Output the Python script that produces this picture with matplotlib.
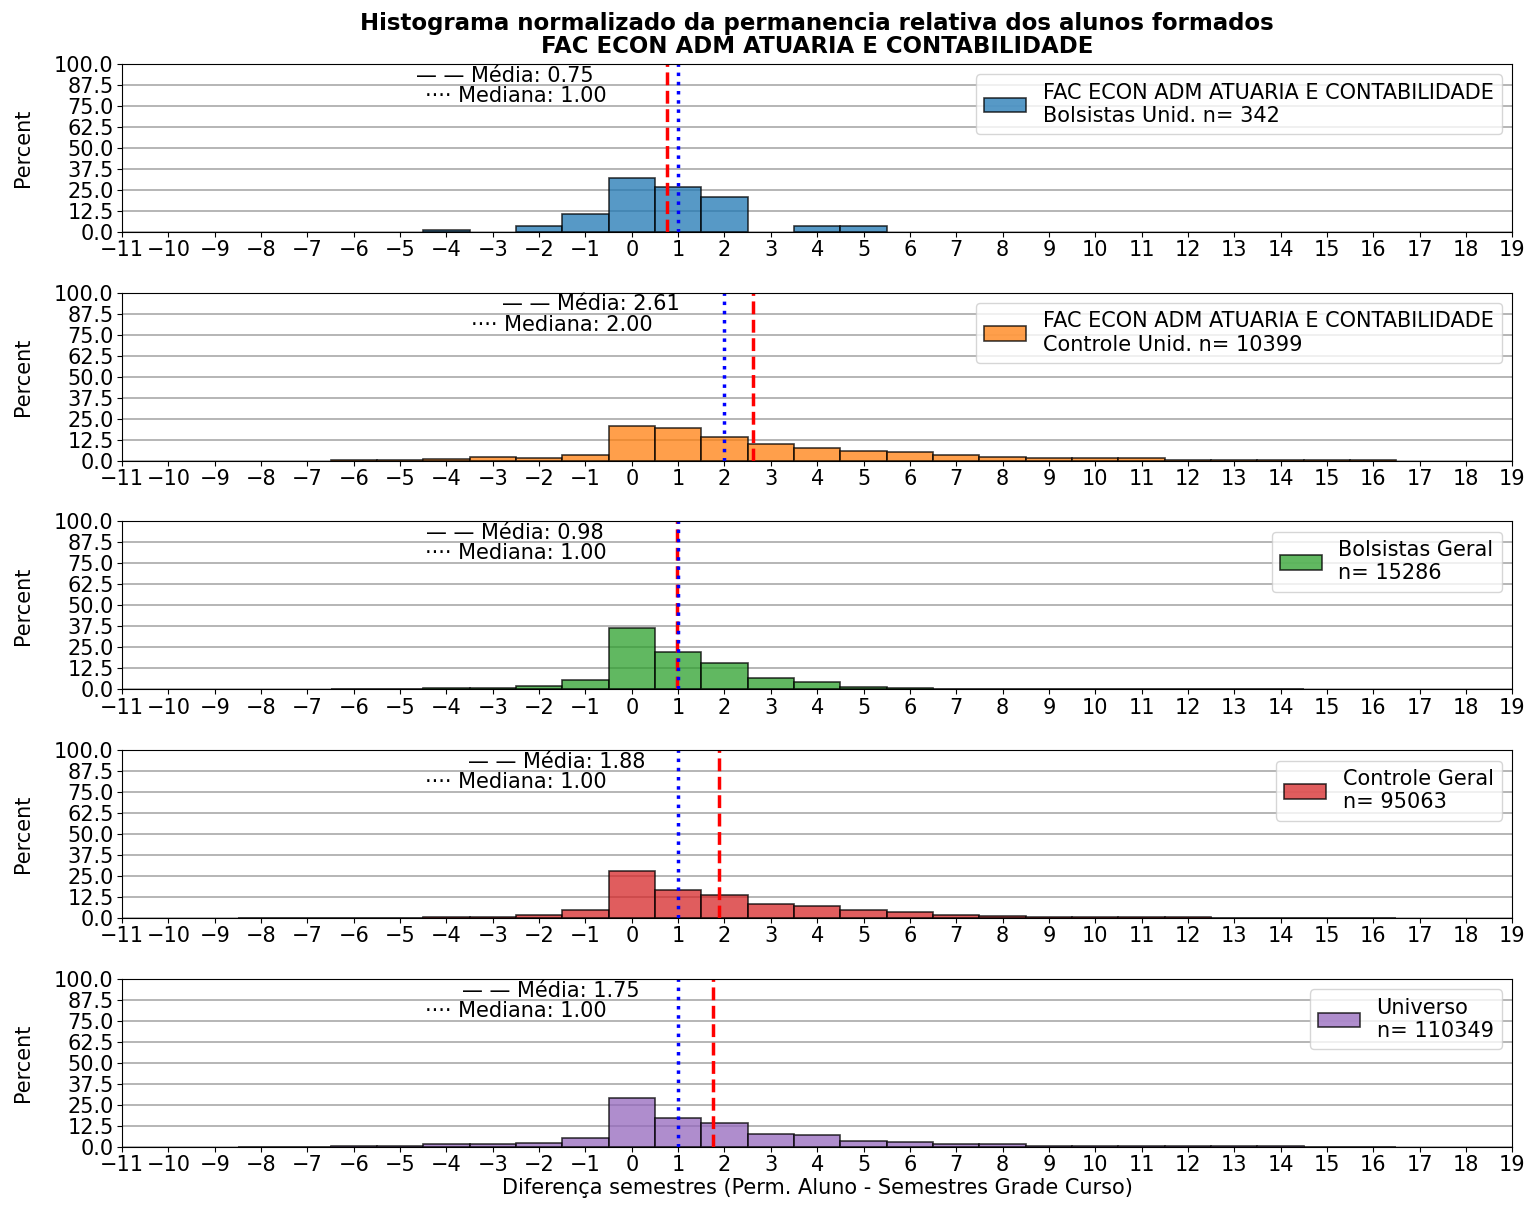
import matplotlib
matplotlib.use('Agg')
import matplotlib.pyplot as plt
import numpy as np

# bins (semesters difference) and percent per bin for each group
x_bols_unid = [-4, -2, -1, 0, 1, 2, 4, 5]
p_bols_unid = [0.9, 3.4, 10.7, 31.8, 26.4, 20.7, 3.2, 3.2]

x_ctrl_unid = [-6, -5, -4, -3, -2, -1, 0, 1, 2, 3, 4, 5, 6, 7, 8, 9, 10, 11, 12, 13, 14, 15, 16]
p_ctrl_unid = [0.1, 0.1, 0.8, 2.4, 1.6, 3.2, 20.6, 19.2, 13.8, 9.6, 7.2, 5.6, 4.9, 3.2, 2.2,
               1.4, 1.4, 1.4, 0.6, 0.6, 0.6, 0.6, 0.5]

x_bols_geral = [-6, -5, -4, -3, -2, -1, 0, 1, 2, 3, 4, 5, 6, 7, 8, 9, 10, 11, 12, 13, 14]
p_bols_geral = [0.2, 0.2, 0.8, 0.8, 2.2, 5.6, 36.3, 22.3, 15.8, 6.5, 4.2, 1.6, 0.8,
                0.1, 0.1, 0.1, 0.1, 0.1, 0.1, 0.1, 0.1]

x_ctrl_geral = [-8, -7, -6, -5, -4, -3, -2, -1, 0, 1, 2, 3, 4, 5, 6, 7, 8, 9, 10, 11, 12, 13, 14, 15, 16]
p_ctrl_geral = [0.1, 0.1, 0.15, 0.15, 0.6, 0.6, 1.6, 5.0, 27.9, 16.5, 13.9, 8.2, 7.4, 5.0, 3.4,
                1.6, 1.4, 0.6, 0.6, 0.6, 0.6, 0.1, 0.1, 0.1, 0.1]

x_universo = [-8, -7, -6, -5, -4, -3, -2, -1, 0, 1, 2, 3, 4, 5, 6, 7, 8, 9, 10, 11, 12, 13, 14, 15, 16]
p_universo = [0.1, 0.1, 0.8, 0.8, 1.6, 1.6, 2.4, 5.1, 29.0, 17.2, 14.2, 7.9, 7.1, 3.8, 3.0,
              1.6, 1.6, 0.6, 0.6, 0.6, 0.6, 0.6, 0.6, 0.1, 0.1]

labels = ['FAC ECON ADM ATUARIA E CONTABILIDADE\nBolsistas Unid. n= 342',
          'FAC ECON ADM ATUARIA E CONTABILIDADE\nControle Unid. n= 10399',
          'Bolsistas Geral\nn= 15286',
          'Controle Geral\nn= 95063',
          'Universo\nn= 110349']
medias = [0.75, 2.61, 0.98, 1.88, 1.75]
medianas = [1.00, 2.00, 1.00, 1.00, 1.00]
cores = ['tab:blue', 'tab:orange', 'tab:green', 'tab:red', 'tab:purple']

xs = [x_bols_unid, x_ctrl_unid, x_bols_geral, x_ctrl_geral, x_universo]
ps = [p_bols_unid, p_ctrl_unid, p_bols_geral, p_ctrl_geral, p_universo]

fs = 15

fig, axes = plt.subplots(5, 1, figsize=(15.26, 12.06), dpi=100)
fig.subplots_adjust(left=0.08, right=0.991, top=0.947, bottom=0.049, hspace=0.363)

for i, ax in enumerate(axes):
    ax.bar(xs[i], ps[i], width=1.0, color=cores[i], alpha=0.75, edgecolor='black',
           linewidth=1.2, label=labels[i])
    ax.axvline(medias[i], color='red', linestyle='--', linewidth=2.5)
    ax.axvline(medianas[i], color='blue', linestyle=':', linewidth=2.5)
    ax.text(medias[i] - 3.5, 93, '\u2014 \u2014 M\u00e9dia: %.2f' % medias[i],
            ha='center', va='center', fontsize=fs)
    ax.text(medianas[i] - 3.5, 81, '\u00b7\u00b7\u00b7\u00b7 Mediana: %.2f' % medianas[i],
            ha='center', va='center', fontsize=fs)
    ax.set_xlim(-11, 19)
    ax.set_ylim(0, 100)
    ax.set_xticks(np.arange(-11, 20, 1))
    ax.set_yticks(np.arange(0, 100.1, 12.5))
    ax.set_yticklabels(['%.1f' % v for v in np.arange(0, 100.1, 12.5)])
    ax.tick_params(labelsize=fs, pad=2.5)
    ax.grid(axis='y', color='#b0b0b0', linewidth=1.3)
    ax.set_axisbelow(True)
    ax.set_ylabel('Percent', fontsize=fs)
    ax.yaxis.set_label_coords(-0.064, 0.5)
    ax.legend(loc='upper right', fontsize=fs, handlelength=2.0, labelspacing=0.25)

axes[0].set_title('Histograma normalizado da permanencia relativa dos alunos formados\n'
                  'FAC ECON ADM ATUARIA E CONTABILIDADE', fontsize=16.5, fontweight='bold',
                  pad=8, linespacing=1.0)
axes[-1].set_xlabel('Diferen\u00e7a semestres (Perm. Aluno - Semestres Grade Curso)', fontsize=fs,
                    labelpad=2)

plt.savefig('out.png', dpi=100)
